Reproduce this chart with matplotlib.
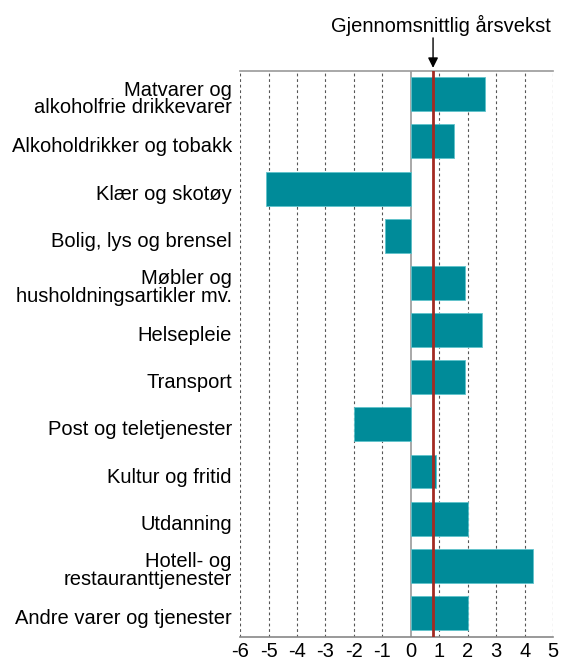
import matplotlib.pyplot as plt
from matplotlib.transforms import ScaledTranslation

plt.rcParams['font.family'] = ['Liberation Sans', 'DejaVu Sans']

categories = [
    "Matvarer og\nalkoholfrie drikkevarer",
    "Alkoholdrikker og tobakk",
    "Klær og skotøy",
    "Bolig, lys og brensel",
    "Møbler og\nhusholdningsartikler mv.",
    "Helsepleie",
    "Transport",
    "Post og teletjenester",
    "Kultur og fritid",
    "Utdanning",
    "Hotell- og\nrestauranttjenester",
    "Andre varer og tjenester",
]
values = [2.6, 1.5, -5.1, -0.9, 1.9, 2.5, 1.9, -2.0, 0.9, 2.0, 4.3, 2.0]
average = 0.78
xticks = list(range(-6, 6))

fig = plt.figure(figsize=(5.61, 6.61), dpi=100)
ax = fig.add_axes([0.428, 0.037, 0.558, 0.856])

ypos = list(range(len(categories)))
ax.barh(ypos, values, height=0.72, color="#008B99", edgecolor="#5fc3cc",
        linewidth=0.6, zorder=3)

for x in xticks:
    if x == 0:
        ax.axvline(0, color="#999999", lw=1.2, zorder=2)
    else:
        ax.axvline(x, color="#555555", lw=0.8, ls=(0, (2.5, 2.5)), zorder=1)

ax.axvline(average, color="#A32A22", lw=2, zorder=4)

ax.set_xlim(-6, 5)
ax.set_ylim(len(categories) - 0.5, -0.5)
ax.set_xticks(xticks)
ax.set_xticklabels([str(x) for x in xticks], fontsize=14.5)
ax.set_yticks(ypos)
ax.set_yticklabels(categories, fontsize=14.5, linespacing=0.9)
ax.tick_params(axis="y", length=0, pad=6)
ax.tick_params(axis="x", length=0, pad=4)

# nudge category labels a few pixels down, as in the reference
shift = ScaledTranslation(0, -0.035, fig.dpi_scale_trans)
for lbl in ax.get_yticklabels():
    lbl.set_transform(lbl.get_transform() + shift)

for s in ["left", "right"]:
    ax.spines[s].set_visible(False)
ax.spines["top"].set_color("#999999")
ax.spines["bottom"].set_color("#888888")
ax.spines["top"].set_linewidth(1.2)
ax.spines["bottom"].set_linewidth(1.2)

ax.text(1.07, 1.062, "Gjennomsnittlig årsvekst", transform=ax.get_xaxis_transform(),
        ha="center", va="bottom", fontsize=14.5)
ax.annotate("", xy=(average, -0.56), xycoords="data",
            xytext=(average, 1.058), textcoords=("data", "axes fraction"),
            annotation_clip=False,
            arrowprops=dict(arrowstyle="-|>", color="black", lw=1,
                            mutation_scale=15, shrinkA=0, shrinkB=0))

fig.savefig("out.png", dpi=100)
